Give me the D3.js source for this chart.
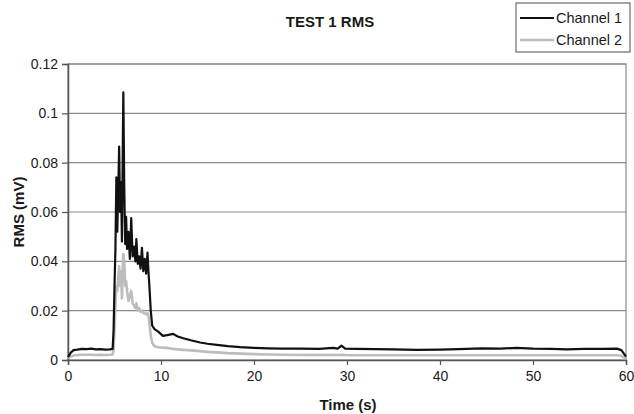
<!DOCTYPE html>
<html><head><meta charset="utf-8">
<script src="https://cdn.jsdelivr.net/npm/d3@7/dist/d3.min.js"></script>
<style>body{margin:0;background:#fff}svg{display:block}text{font-family:"Liberation Sans",Arial,sans-serif;fill:#1a1a1a}</style>
</head><body><svg id="c" width="634" height="414"></svg>
<script>
const time = [0.0,0.3,0.6,1.0,1.5,2.0,2.5,3.0,3.5,4.0,4.5,4.8,4.9,5.0,5.1,5.2,5.3,5.4,5.5,5.6,5.7,5.8,5.9,5.95,6.05,6.15,6.25,6.35,6.5,6.65,6.8,6.95,7.1,7.25,7.35,7.5,7.65,7.8,7.95,8.1,8.25,8.4,8.55,8.65,8.75,8.9,9.05,9.3,9.7,10.2,10.8,11.3,11.8,12.4,13.2,14.2,15.0,16.0,17.2,18.5,20.0,21.5,23.0,25.0,27.0,28.5,29.0,29.4,29.8,31.0,33.0,35.0,37.5,40.0,42.0,44.5,46.5,48.2,50.0,52.0,53.6,55.5,57.5,59.0,59.5,60.0];
const channel1 = [0.0012,0.0030,0.0040,0.0042,0.0045,0.0044,0.0046,0.0043,0.0044,0.0042,0.0043,0.0045,0.0120,0.0300,0.0450,0.0740,0.0520,0.0680,0.0865,0.0600,0.0720,0.0480,0.0900,0.1085,0.0700,0.0470,0.0580,0.0450,0.0520,0.0410,0.0575,0.0420,0.0460,0.0400,0.0490,0.0390,0.0420,0.0370,0.0455,0.0360,0.0410,0.0350,0.0435,0.0360,0.0300,0.0200,0.0140,0.0125,0.0115,0.0098,0.0102,0.0106,0.0095,0.0088,0.0080,0.0071,0.0066,0.0061,0.0056,0.0052,0.0049,0.0047,0.0046,0.0046,0.0045,0.0049,0.0046,0.0058,0.0046,0.0045,0.0044,0.0043,0.0041,0.0042,0.0044,0.0047,0.0046,0.0049,0.0046,0.0045,0.0043,0.0045,0.0045,0.0046,0.0040,0.0014];
const channel2 = [0.0008,0.0014,0.0018,0.0020,0.0021,0.0021,0.0021,0.0020,0.0021,0.0020,0.0021,0.0022,0.0040,0.0120,0.0220,0.0300,0.0280,0.0340,0.0380,0.0300,0.0360,0.0250,0.0390,0.0430,0.0400,0.0300,0.0320,0.0280,0.0240,0.0260,0.0280,0.0230,0.0220,0.0210,0.0230,0.0200,0.0210,0.0195,0.0200,0.0190,0.0190,0.0185,0.0190,0.0180,0.0150,0.0100,0.0070,0.0056,0.0052,0.0050,0.0048,0.0045,0.0043,0.0041,0.0039,0.0036,0.0033,0.0031,0.0028,0.0026,0.0024,0.0022,0.0021,0.0020,0.0020,0.0020,0.0020,0.0021,0.0020,0.0019,0.0019,0.0019,0.0019,0.0019,0.0019,0.0019,0.0019,0.0019,0.0019,0.0019,0.0019,0.0019,0.0019,0.0019,0.0017,0.0006];
const xTicks = [0,10,20,30,40,50,60];
const yTicks = [0,0.02,0.04,0.06,0.08,0.1,0.12];
const seriesNames = ["Channel 1","Channel 2"];
const seriesColors = ["#111111","#bdbdbd"];

const svg = d3.select("#c");
const m = {l:68, r:8, t:64, b:54};
const W = 634, H = 414;
const x = d3.scaleLinear().domain([0,60]).range([m.l, W-m.r]);
const y = d3.scaleLinear().domain([0,0.12]).range([H-m.b, m.t]);

// plot border
svg.append("rect").attr("x",m.l).attr("y",m.t).attr("width",W-m.r-m.l).attr("height",H-m.b-m.t)
  .attr("fill","none").attr("stroke","#8a8a8a").attr("stroke-width",1.2);
// gridlines
svg.append("g").selectAll("line").data(yTicks.slice(1)).join("line")
  .attr("x1",m.l).attr("x2",W-m.r).attr("y1",d=>y(d)).attr("y2",d=>y(d))
  .attr("stroke","#8a8a8a").attr("stroke-width",1.2);

// axes
const fmt = d => d===0 ? "0" : String(+d.toFixed(2));
const ya = svg.append("g").attr("transform",`translate(${m.l},0)`)
  .call(d3.axisLeft(y).tickValues(yTicks).tickFormat(fmt).tickSize(6).tickPadding(4));
const xa = svg.append("g").attr("transform",`translate(0,${H-m.b})`)
  .call(d3.axisBottom(x).tickValues(xTicks).tickFormat(d3.format("d")).tickSize(5).tickPadding(6));
[ya,xa].forEach(a=>{
  a.select(".domain").attr("stroke","#555").attr("stroke-width",1.5);
  a.selectAll(".tick line").attr("stroke","#555").attr("stroke-width",1.2);
  a.selectAll("text").style("font-size","14px").attr("fill","#1a1a1a");
});

// lines
const data = [channel1, channel2];
const line = d3.line().x((d,i)=>x(time[i])).y(d=>y(d));
[1,0].forEach(k=>{
  svg.append("path").datum(data[k]).attr("d",line).attr("fill","none")
    .attr("stroke",seriesColors[k]).attr("stroke-width",k===0?2.2:2.6).attr("stroke-linejoin","round");
});

// titles
svg.append("text").attr("x",330).attr("y",27).attr("text-anchor","middle")
  .style("font-size","15px").style("font-weight","bold").text("TEST 1 RMS");
svg.append("text").attr("x",348).attr("y",410).attr("text-anchor","middle")
  .style("font-size","15px").style("font-weight","bold").text("Time (s)");
svg.append("text").attr("transform",`translate(24,${(m.t+H-m.b)/2}) rotate(-90)`).attr("text-anchor","middle")
  .style("font-size","15px").style("font-weight","bold").text("RMS (mV)");

// legend
const lg = svg.append("g");
lg.append("rect").attr("x",516).attr("y",3).attr("width",114).attr("height",49)
  .attr("fill","#fff").attr("stroke","#6a6a6a").attr("stroke-width",1.2);
seriesNames.forEach((n,i)=>{
  const yy = 18 + i*22;
  lg.append("line").attr("x1",520).attr("x2",554).attr("y1",yy).attr("y2",yy)
    .attr("stroke",seriesColors[i]).attr("stroke-width",i===0?2.2:2.6);
  lg.append("text").attr("x",556).attr("y",yy+5).style("font-size","14.5px").text(n);
});
</script></body></html>
